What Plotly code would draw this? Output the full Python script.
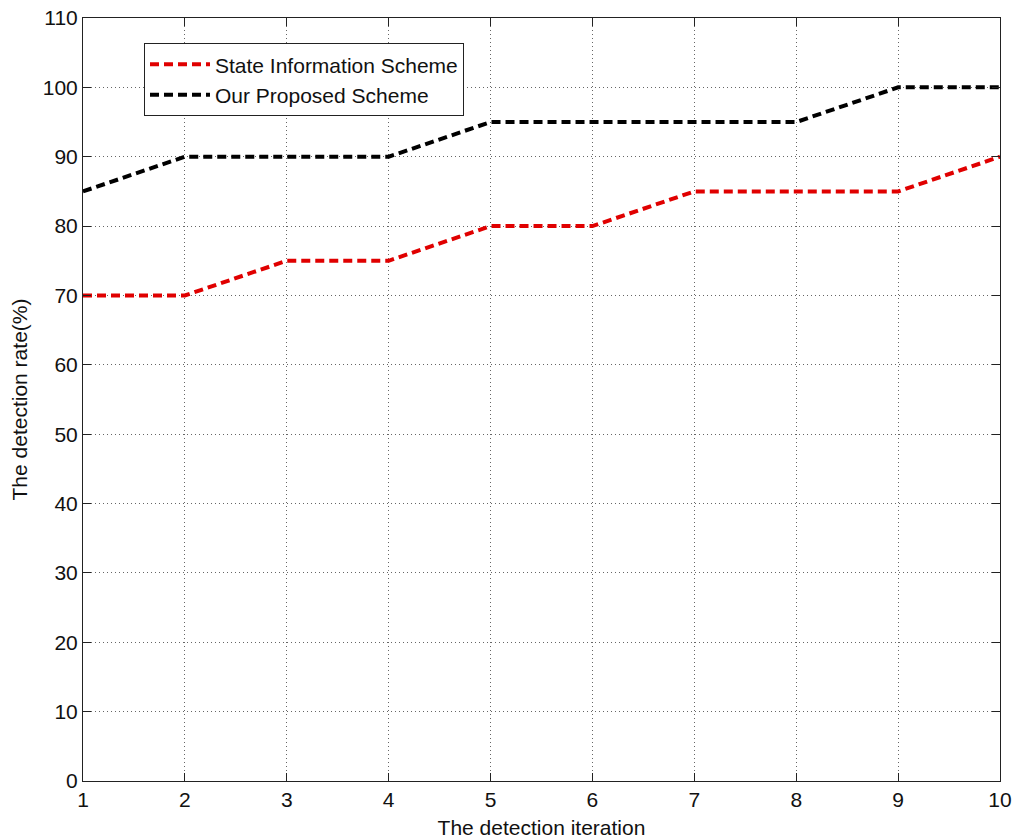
import plotly.graph_objects as go

iterations = [1, 2, 3, 4, 5, 6, 7, 8, 9, 10]
state_info_rate = [70, 70, 75, 75, 80, 80, 85, 85, 85, 90]
proposed_rate = [85, 90, 90, 90, 95, 95, 95, 95, 100, 100]

y_ticks = list(range(0, 111, 10))

FONT = "Arial, Liberation Sans"

fig = go.Figure()
fig.add_trace(go.Scatter(
    x=iterations, y=state_info_rate, mode="lines",
    name="State Information Scheme",
    line=dict(color="#e00000", width=4, dash="9px,5px"),
))
fig.add_trace(go.Scatter(
    x=iterations, y=proposed_rate, mode="lines",
    name="Our Proposed Scheme",
    line=dict(color="#000000", width=4, dash="9px,5px"),
))

axis_common = dict(
    showline=True, linecolor="#222", linewidth=1, mirror="ticks",
    ticks="inside", ticklen=8, tickcolor="#222",
    showgrid=True, gridcolor="#666", griddash="1px,3px", gridwidth=1,
    zeroline=False, automargin=False,
    tickfont=dict(family=FONT, size=21, color="#111"),
)

fig.update_xaxes(
    range=[1, 10], tickvals=iterations, **axis_common,
    title=dict(text="The detection iteration", standoff=10,
               font=dict(family=FONT, size=21, color="#111")),
)
fig.update_yaxes(
    range=[0, 110], tickvals=y_ticks, **axis_common,
    title=dict(text="The detection rate(%)", standoff=9,
               font=dict(family=FONT, size=21, color="#111")),
)

fig.update_layout(
    width=1017, height=840,
    margin=dict(l=83, r=17, t=18, b=59),
    plot_bgcolor="white", paper_bgcolor="white",
    showlegend=True,
    legend=dict(
        x=0.0665, y=0.967, xanchor="left", yanchor="top",
        bgcolor="white", bordercolor="#222", borderwidth=1,
        font=dict(family=FONT, size=21, color="#111"),
        tracegroupgap=0, itemwidth=60,
    ),
)

fig.write_html("out.html")
